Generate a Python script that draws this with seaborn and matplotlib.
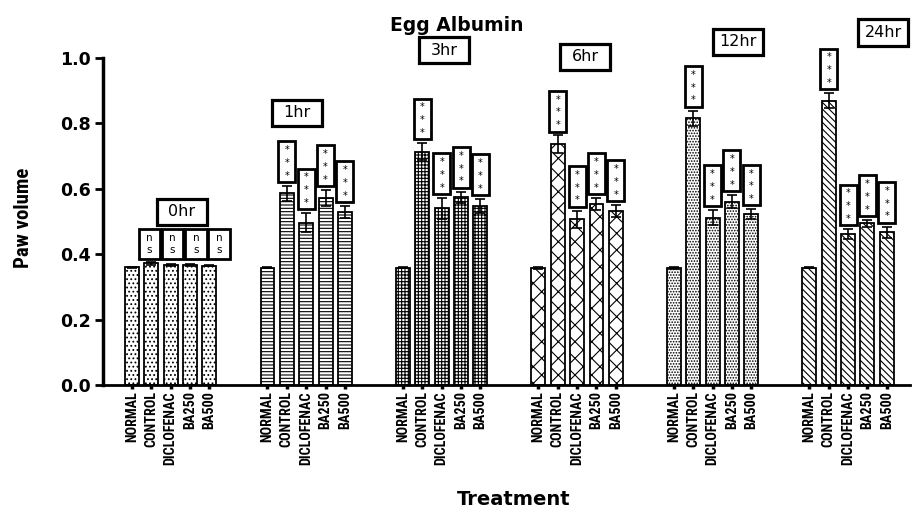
import numpy as np
import pandas as pd
import matplotlib
matplotlib.use("Agg")
import matplotlib.pyplot as plt
from matplotlib.patches import Rectangle
import seaborn as sns
import logging
logging.getLogger("matplotlib.font_manager").setLevel(logging.ERROR)

# ---------------- data ----------------
groups = ["0hr", "1hr", "3hr", "6hr", "12hr", "24hr"]
treatments = ["NORMAL", "CONTROL", "DICLOFENAC", "BA250", "BA500"]

mean_0hr = [0.360, 0.372, 0.367, 0.368, 0.365]
mean_1hr = [0.359, 0.586, 0.496, 0.571, 0.529]
mean_3hr = [0.359, 0.713, 0.540, 0.574, 0.547]
mean_6hr = [0.357, 0.736, 0.507, 0.553, 0.532]
mean_12hr = [0.357, 0.815, 0.512, 0.561, 0.523]
mean_24hr = [0.359, 0.870, 0.461, 0.494, 0.467]

sem_0hr = [0.002, 0.005, 0.003, 0.003, 0.002]
sem_1hr = [0.002, 0.022, 0.029, 0.025, 0.018]
sem_3hr = [0.002, 0.026, 0.031, 0.017, 0.021]
sem_6hr = [0.003, 0.027, 0.026, 0.018, 0.018]
sem_12hr = [0.003, 0.024, 0.023, 0.020, 0.014]
sem_24hr = [0.002, 0.022, 0.015, 0.011, 0.017]

# significance vs NORMAL for CONTROL, DICLOFENAC, BA250, BA500
sig_0hr = ["ns", "ns", "ns", "ns"]
sig_1hr = ["***", "***", "***", "***"]
sig_3hr = ["***", "***", "***", "***"]
sig_6hr = ["***", "***", "***", "***"]
sig_12hr = ["***", "***", "***", "***"]
sig_24hr = ["***", "***", "***", "***"]

means = [mean_0hr, mean_1hr, mean_3hr, mean_6hr, mean_12hr, mean_24hr]
sems = [sem_0hr, sem_1hr, sem_3hr, sem_6hr, sem_12hr, sem_24hr]
sigs = [sig_0hr, sig_1hr, sig_3hr, sig_6hr, sig_12hr, sig_24hr]

# ---------------- layout / style ----------------
GROUP_STEP = 7
hatches = ["....", "-----", "+++++", "xx", "......", "\\" * 5]
# group-label box: (dx from group centre, y in data units)
label_layout = [(0.56, 0.53), (-0.49, 0.832), (0.14, 1.024),
                (0.41, 1.004), (1.29, 1.05), (1.81, 1.078)]
NARROW = ["Liberation Sans Narrow", "Roboto Condensed",
          "DejaVu Sans Condensed", "Roboto", "DejaVu Sans"]

rows = []
for g, grp in enumerate(groups):
    for i, tr in enumerate(treatments):
        rows.append(dict(group=grp, gi=g, treatment=tr, ti=i,
                         pos=g * GROUP_STEP + i,
                         value=means[g][i], sem=sems[g][i]))
df = pd.DataFrame(rows)

sns.set_style("ticks")
plt.rcParams["font.family"] = ["DejaVu Sans"]
plt.rcParams["hatch.linewidth"] = 0.8
plt.rcParams["hatch.color"] = "black"
for k in ["text.color", "axes.labelcolor", "xtick.color", "ytick.color",
          "axes.edgecolor"]:
    plt.rcParams[k] = "black"

W, H = 914, 508
fig = plt.figure(figsize=(W / 100, H / 100), dpi=100, facecolor="white")
ax = fig.add_axes([103 / W, 1 - 385 / H, 807 / W, 327 / H])

sns.barplot(data=df, x="pos", y="value", native_scale=True, orient="x",
            errorbar=None, color="white", saturation=1, edgecolor="black",
            linewidth=1.3, width=0.72, ax=ax)

# hatch each bar according to its group
for p in ax.patches:
    cx = p.get_x() + p.get_width() / 2
    g = int(round(cx)) // GROUP_STEP
    p.set_hatch(hatches[g])
    p.set_facecolor("white")
    p.set_edgecolor("black")

ax.errorbar(df["pos"], df["value"], yerr=df["sem"], fmt="none",
            ecolor="black", elinewidth=1.2, capsize=3.5, capthick=1.2,
            zorder=5)

ax.set_xlim(-1.5, 40.2)
ax.set_ylim(0, 1.0)
ax.set_yticks([0.0, 0.2, 0.4, 0.6, 0.8, 1.0])
ax.set_yticklabels([f"{v:.1f}" for v in [0.0, 0.2, 0.4, 0.6, 0.8, 1.0]],
                   fontsize=12.5, fontweight="heavy")
ax.set_xticks(df["pos"])
ax.set_xticklabels(df["treatment"], rotation=90, fontsize=10.2,
                   fontweight="bold", family=NARROW)

sns.despine(ax=ax)
ax.spines["left"].set_linewidth(2.5)
ax.spines["bottom"].set_linewidth(2)
ax.tick_params(axis="x", length=3, width=2.5, pad=1.5, color="black")
ax.tick_params(axis="y", length=6, width=2, pad=3, color="black")

# ---------------- annotation boxes ----------------
def box(x0, y0, w, h, lw=2.0):
    ax.add_patch(Rectangle((x0, y0), w, h, facecolor="white",
                           edgecolor="black", linewidth=lw,
                           clip_on=False, zorder=6))

for g, grp in enumerate(groups):
    base = g * GROUP_STEP
    if sigs[g][0] == "ns":
        top_err = max(m + s for m, s in zip(means[g][1:], sems[g][1:]))
        for j, lab in enumerate(sigs[g]):
            bx = base + j + 1
            cx = bx * 1.2 - 0.3 - base * 0.2
            w, h = 1.1, 0.092
            y0 = top_err + 0.007
            box(cx - w / 2, y0, w, h)
            ax.text(cx, y0 + h / 2, "n\ns", ha="center", va="center",
                    fontsize=7.5, linespacing=1.25, zorder=7,
                    clip_on=False)
    else:
        for j, lab in enumerate(sigs[g]):
            i = j + 1
            cx = base + i
            w, h = 0.88, 0.125
            y0 = means[g][i] + sems[g][i] + 0.012
            box(cx - w / 2, y0, w, h)
            ax.text(cx, y0 + h / 2 - 0.004, "\n".join(list(lab)),
                    ha="center", va="center", fontsize=7,
                    linespacing=1.35, zorder=7, clip_on=False)
    dx, ly = label_layout[g]
    cx = base + 2 + dx
    w, h = 2.58, 0.08
    box(cx - w / 2, ly - h / 2, w, h, lw=2.3)
    ax.text(cx, ly, grp, ha="center", va="center", fontsize=11.5,
            zorder=7, clip_on=False)

# ---------------- labels ----------------
ax.set_ylabel("Paw volume", fontsize=15, fontweight="bold", family=NARROW)
ax.yaxis.set_label_coords(-0.087, 0.511)
ax.set_xlabel("Treatment", fontsize=14, fontweight="heavy")
ax.xaxis.set_label_coords(0.509, -0.322)
fig.text(457 / W, 1 - 31 / H, "Egg Albumin", ha="center", va="baseline",
         fontsize=13.5, fontweight="heavy")

fig.savefig("out.png", dpi=100, facecolor="white")
